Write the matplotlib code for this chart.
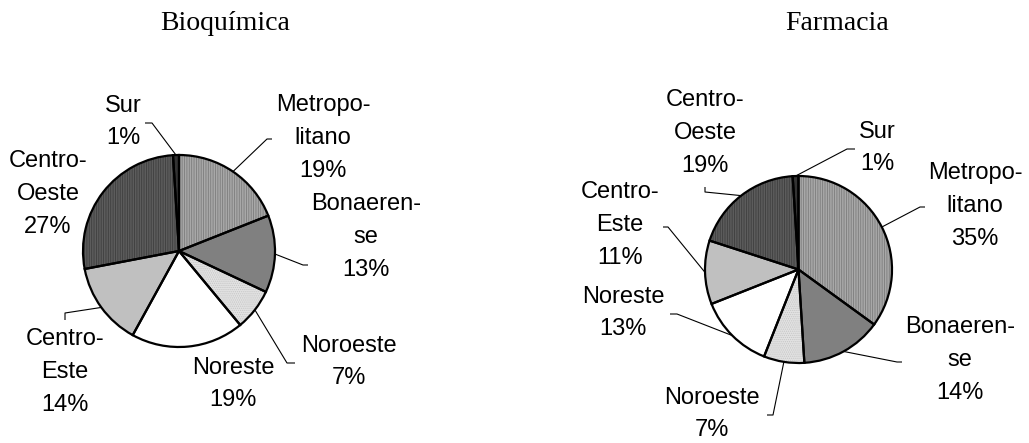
import matplotlib
matplotlib.use("Agg")
import matplotlib.pyplot as plt
import numpy as np

# ---------------- data ----------------
regions = ["Metropolitano", "Bonaerense", "Noroeste", "Noreste",
           "Centro-Este", "Centro-Oeste", "Sur"]
label_names = ["Metropo-\nlitano", "Bonaeren-\nse", "Noroeste", "Noreste",
               "Centro-\nEste", "Centro-\nOeste", "Sur"]
bioquimica = [19, 13, 7, 19, 14, 27, 1]
farmacia = [35, 14, 7, 13, 11, 19, 1]
titles = ["Bioquímica", "Farmacia"]

# ---------------- style ----------------
face_colors = ["#a8a8a8", "#808080", "#e2e2e2", "#ffffff", "#c0c0c0", "#5c5c5c", "#333333"]
hatch_colors = ["#7c7c7c", "#808080", "#c6c6c6", "#ffffff", "#c0c0c0", "#3e3e3e", "#333333"]
hatches = ["|||||||", None, "........", None, None, "|||||||", None]

W, H = 1029, 443
plt.rcParams['hatch.linewidth'] = 0.6

fig = plt.figure(figsize=(W / 100, H / 100), dpi=100)
ax = fig.add_axes([0, 0, 1, 1])


def Y(py):
    return H - py


# layout (pixel coordinates, y measured from top)
layouts = [
    dict(center=(179, 251), radius=96, title=(225, 23),
         labels=[(323, 138), (366, 237), (349, 362), (233, 384),
                 (65, 372), (48, 194), (123, 122)],
         leaders=[[(267, 139), (272, 139)],
                  [(303, 265), (308, 265)],
                  [(287, 363), (295, 363)],
                  None,
                  [(65, 313), (65, 320)],
                  None,
                  [(152, 123), (145, 123)]]),
    dict(center=(798.5, 269.5), radius=93.5, title=(837, 23),
         labels=[(975, 206), (960, 360), (712, 414), (623, 313),
                 (620, 225), (705, 133), (877, 148)],
         leaders=[[(920, 207), (925, 207)],
                  [(897, 362), (902, 362)],
                  [(773, 415), (767, 415)],
                  [(677, 314), (670, 314)],
                  [(668, 227), (663, 227)],
                  [(705, 192), (705, 187)],
                  [(847, 149), (855, 149)]]),
]

label_font = dict(family=["Liberation Sans", "DejaVu Sans"], fontsize=17,
                  linespacing=1.62, ha="center", va="center", multialignment="center",
                  color="black")
title_font = dict(family=["Liberation Serif", "DejaVu Serif"], fontsize=20,
                  ha="center", va="center", color="black")

for values, title, lay in zip([bioquimica, farmacia], titles, layouts):
    cx, cy = lay["center"]
    r = lay["radius"]
    # fill + hatch layer
    wedges, _ = ax.pie(values, colors=face_colors, startangle=90, counterclock=False,
                       center=(cx, Y(cy)), radius=r,
                       wedgeprops=dict(linewidth=0))
    for w, hc, ht in zip(wedges, hatch_colors, hatches):
        w.set_edgecolor(hc)
        if ht:
            w.set_hatch(ht)
    # outline layer
    outl, _ = ax.pie(values, colors=["none"] * len(values), startangle=90,
                     counterclock=False, center=(cx, Y(cy)), radius=r,
                     wedgeprops=dict(linewidth=1.6, edgecolor="black", facecolor="none"))
    total = sum(values)
    for i, (w, v) in enumerate(zip(outl, values)):
        pct = f"{round(100 * v / total)}%"
        lx, ly = lay["labels"][i]
        ax.text(lx, Y(ly), f"{label_names[i]}\n{pct}", **label_font)
        pts = lay["leaders"][i]
        if pts:
            mid = np.deg2rad((w.theta1 + w.theta2) / 2)
            ex, ey = cx + r * np.cos(mid), Y(cy) + r * np.sin(mid)
            xs = [ex] + [p[0] for p in pts]
            ys = [ey] + [Y(p[1]) for p in pts]
            ax.plot(xs, ys, color="black", linewidth=0.8, solid_capstyle="butt")
    tx, ty = lay["title"]
    ax.text(tx, Y(ty), title, **title_font)

ax.set_xlim(0, W)
ax.set_ylim(0, H)
ax.set_aspect("auto")
ax.axis("off")

fig.savefig("out.png", dpi=100, facecolor="white")
